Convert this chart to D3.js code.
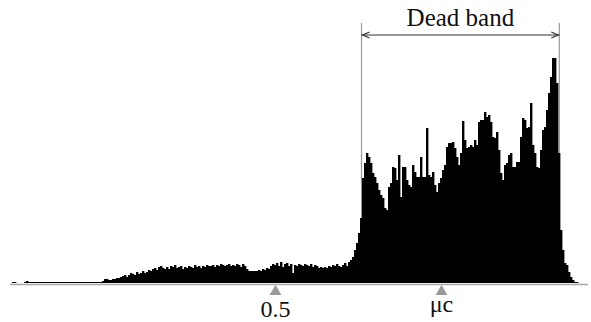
<!DOCTYPE html>
<html>
<head>
<meta charset="utf-8">
<script src="https://cdn.jsdelivr.net/npm/d3@7"></script>
<style>
  body { margin: 0; background: #fff; }
  text { font-family: "Liberation Serif", "Times New Roman", serif; }
</style>
</head>
<body>
<svg id="chart"></svg>
<script>
// histogram counts, one per bin
const counts = [
  1, 1, 0, 0, 0, 0, 1, 2, 1,
  1, 1, 1, 1, 1, 1, 1, 1, 1, 1, 1, 1, 1, 1, 1, 1, 1, 1,
  1, 1, 1, 1, 1, 1, 1, 1, 1, 1, 1, 1, 1, 1, 1, 1, 1, 1,
  2, 4, 4, 3, 3, 4, 4, 5, 5, 6, 7, 8, 6, 8, 10, 9, 8, 11, 9, 10,
  12, 10, 11, 13, 12, 14, 15, 13, 16, 17, 15, 14, 16, 14, 17, 16, 18, 15, 16, 17,
  14, 16, 15, 17, 16, 15, 18, 16, 17, 15, 17, 16, 18, 17, 17, 18, 16, 18, 17, 19,
  18, 17, 18, 19, 17, 18, 17, 19, 18, 16, 19, 17, 14, 12, 12, 12, 12, 12, 13, 12,
  14, 13, 15, 14, 17, 19, 18, 20, 17, 21, 16, 19, 20, 17, 19, 10, 18, 17, 19, 18,
  17, 19, 18, 17, 19, 16, 18, 17, 15, 16, 15, 16, 15, 17, 16, 18, 17, 19, 17, 16,
  18, 20, 17, 21, 23, 26, 33, 40, 50, 65, 105, 120, 130, 126, 120, 110, 106, 100, 93, 88,
  85, 75, 73, 96, 100, 116, 115, 103, 128, 86, 116, 116, 103, 98, 96, 118, 111, 106, 106, 126,
  106, 106, 155, 108, 106, 111, 98, 91, 100, 105, 113, 118, 136, 140, 140, 141, 135, 126, 118, 130,
  162, 143, 135, 136, 138, 136, 143, 138, 161, 163, 163, 171, 166, 168, 161, 146, 145, 151, 133, 110,
  103, 118, 120, 128, 130, 116, 116, 121, 121, 146, 165, 163, 155, 156, 180, 138, 130, 116, 115, 133,
  153, 156, 173, 190, 206, 225, 225, 200, 130, 53, 33, 20, 18, 11, 6, 3, 1, 1
];
const binWidth = 1 / 263;
const tickValues = [0.5, 0.8156];
const tickLabels = ["0.5", "\u03bcc"];
const deadBand = [0.6645, 1.0405];
const deadBandLabel = "Dead band";

const width = 591, height = 322;
const svg = d3.select("#chart").attr("width", width).attr("height", height);

const x = d3.scaleLinear().domain([0, counts.length * binWidth]).range([12, 578]);
const y = d3.scaleLinear().domain([0, 225]).range([283, 58]);

// dead band guides
svg.selectAll("line.guide")
  .data(deadBand)
  .enter().append("line")
  .attr("class", "guide")
  .attr("x1", d => x(d)).attr("x2", d => x(d))
  .attr("y1", 23).attr("y2", y(0))
  .attr("stroke", "#9a9a9a").attr("stroke-width", 1.2);

// bars
const bw = x(binWidth) - x(0);
svg.append("g")
  .selectAll("rect")
  .data(counts)
  .enter().append("rect")
  .attr("x", (d, i) => x(i * binWidth))
  .attr("width", bw + 0.4)
  .attr("y", d => y(d))
  .attr("height", d => y(0) - y(d))
  .attr("fill", "#000");

// axis
const axis = d3.axisBottom(x)
  .tickValues(tickValues)
  .tickFormat((d, i) => tickLabels[i])
  .tickSize(0);
const gx = svg.append("g").attr("transform", "translate(0," + (y(0) + 1.5) + ")").call(axis);
gx.select(".domain").remove();
gx.append("line")
  .attr("x1", x.range()[0] - 2).attr("x2", 588)
  .attr("stroke", "#a8a8a8").attr("stroke-width", 1.6);
gx.selectAll(".tick text")
  .attr("fill", "#111")
  .attr("dy", null)
  .attr("y", (d, i) => i === 0 ? 32 : 27)
  .style("font-size", "24px")
  .attr("font-family", "Liberation Serif, serif");
gx.selectAll(".tick").append("path")
  .attr("d", d3.symbol().type(d3.symbolTriangle).size(60))
  .attr("transform", "translate(0,7)")
  .attr("fill", "#999");

// dead band bracket
const arrowY = 35;
svg.append("line")
  .attr("x1", x(deadBand[0])).attr("x2", x(deadBand[1]))
  .attr("y1", arrowY).attr("y2", arrowY)
  .attr("stroke", "#333").attr("stroke-width", 1);
[[deadBand[0], 1], [deadBand[1], -1]].forEach(([v, dir]) => {
  const px = x(v);
  svg.append("path")
    .attr("d", `M${px + dir * 8},${arrowY - 3}L${px + 1 * dir},${arrowY}L${px + dir * 8},${arrowY + 3}`)
    .attr("fill", "none").attr("stroke", "#333").attr("stroke-width", 1.2);
});
svg.append("text")
  .attr("x", (x(deadBand[0]) + x(deadBand[1])) / 2)
  .attr("y", 26)
  .attr("text-anchor", "middle")
  .style("font-size", "25px")
  .attr("fill", "#111")
  .text(deadBandLabel);
</script>
</body>
</html>
